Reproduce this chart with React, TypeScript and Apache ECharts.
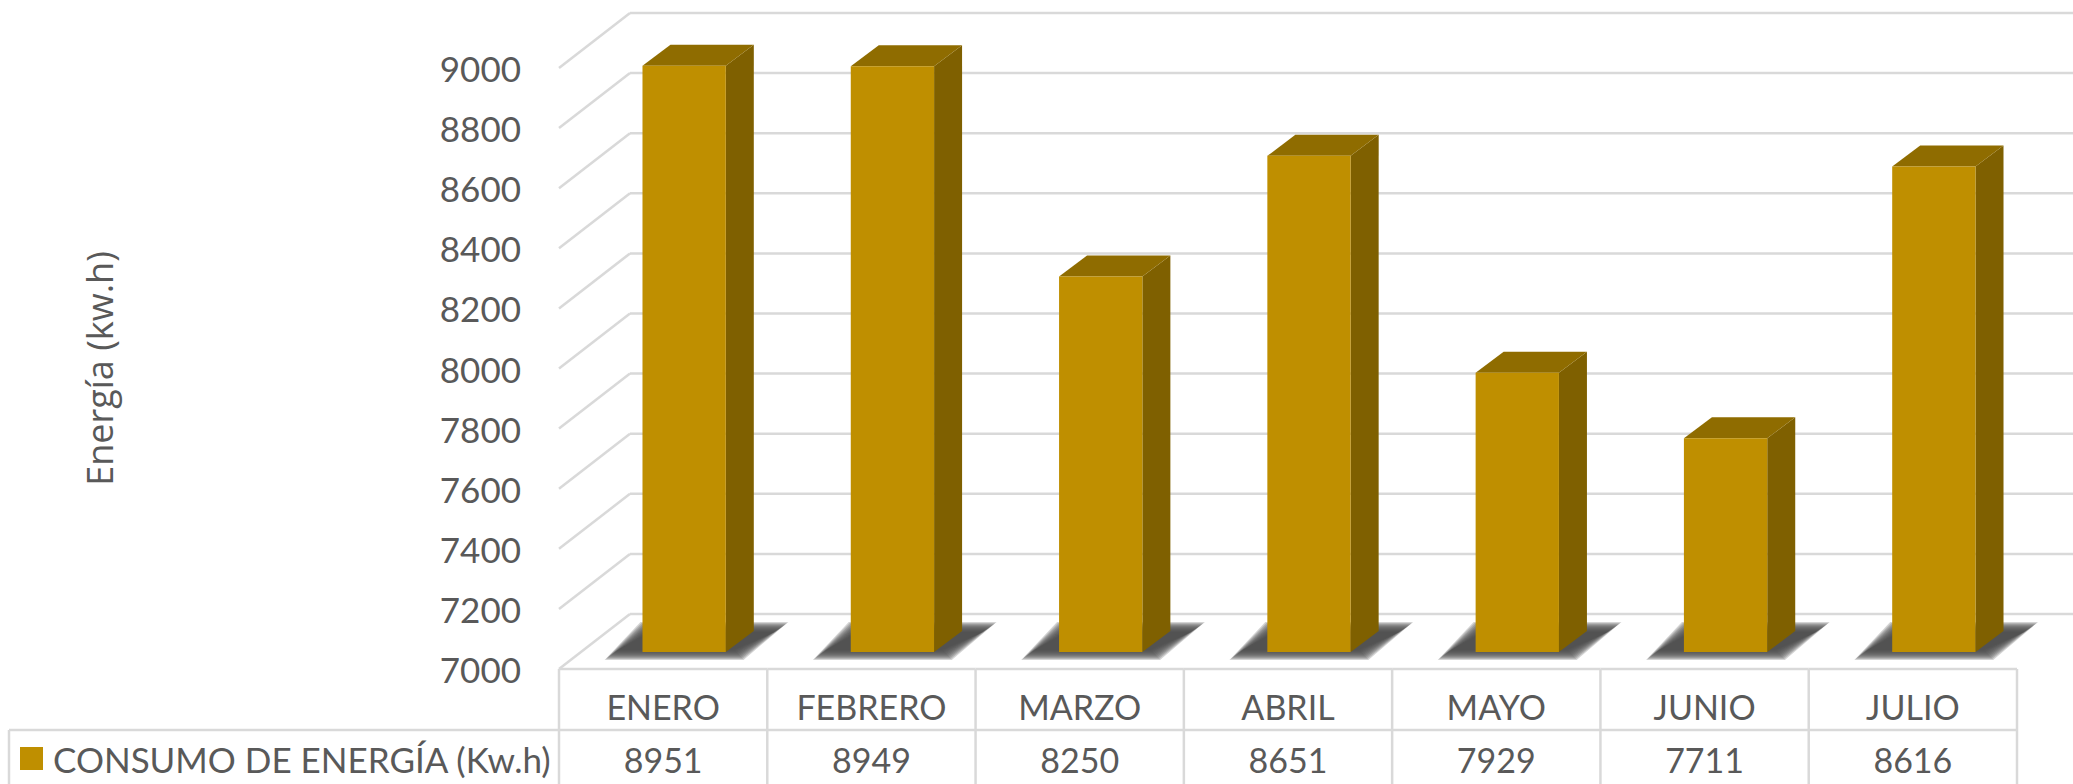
import React, { useEffect, useRef } from "react";
import * as echarts from "echarts";

const meses = ["ENERO", "FEBRERO", "MARZO", "ABRIL", "MAYO", "JUNIO", "JULIO"];
const consumo = [8951, 8949, 8250, 8651, 7929, 7711, 8616];
const marcasEje = [7000, 7200, 7400, 7600, 7800, 8000, 8200, 8400, 8600, 8800, 9000];
const nombreSerie = "CONSUMO DE ENERGÍA (Kw.h)";
const tituloEje = "Energía (kw.h)";

const GRID_COLOR = "#d9d9d9";
const TEXT_COLOR = "#595959";
const FONT = "Lato, 'Open Sans', sans-serif";
const WALL_DX = 71;
const WALL_DY = 55;
const BAR_SHIFT_X = 21;
const BAR_SHIFT_Y = 17;
const BAR_DX = 28;
const BAR_DY = 21;
const ROW_Y = 730;
const TABLE_LEFT = 9;
const W = 2073;
const H = 784;
const SHADOW_LAYERS = 10;

const line = (x1: number, y1: number, x2: number, y2: number) => ({
  type: "line",
  shape: { x1, y1, x2, y2 },
  style: { stroke: GRID_COLOR, lineWidth: 2.5, fill: "none" },
});

export default function App() {
  const ref = useRef<HTMLDivElement>(null);
  useEffect(() => {
    const chart = echarts.init(ref.current!, null, { renderer: "svg" });
    chart.setOption({
      animation: false,
      backgroundColor: "#ffffff",
      grid: { left: 559, right: W - 2017, top: 68, bottom: H - 669, containLabel: false },
      legend: {
        left: 20,
        top: 741,
        padding: 0,
        itemWidth: 23,
        itemHeight: 23,
        icon: "rect",
        data: [nombreSerie],
        selectedMode: false,
        textStyle: { color: TEXT_COLOR, fontFamily: FONT, fontSize: 35, padding: [0, 0, 0, 5] },
      },
      xAxis: {
        type: "category",
        data: meses,
        axisLine: { show: false },
        axisTick: { show: false },
        axisLabel: { color: TEXT_COLOR, fontFamily: FONT, fontSize: 34, margin: 37, verticalAlign: "middle", interval: 0 },
      },
      yAxis: {
        type: "value",
        min: 7000,
        max: 9000,
        interval: 200,
        name: tituloEje,
        nameLocation: "middle",
        nameRotate: 90,
        nameGap: 442,
        nameTextStyle: { color: TEXT_COLOR, fontFamily: "'Open Sans', sans-serif", fontSize: 36 },
        axisLine: { show: false },
        axisTick: { show: false },
        splitLine: { show: false },
        axisLabel: {
          color: TEXT_COLOR,
          fontFamily: FONT,
          fontSize: 35,
          margin: 38,
          formatter: (v: number) => String(v),
        },
      },
      series: [
        {
          type: "custom",
          name: "paredes",
          silent: true,
          z: 1,
          data: marcasEje.map((v) => [0, v]),
          renderItem: (params: any, api: any) => {
            const y = api.coord([0, api.value(1)])[1];
            const c = params.coordSys;
            return {
              type: "group",
              children: [
                line(c.x, y, c.x + WALL_DX, y - WALL_DY),
                line(c.x + WALL_DX, y - WALL_DY, W + 10, y - WALL_DY),
              ],
            };
          },
        },
        {
          type: "custom",
          name: "tabla",
          silent: true,
          z: 1,
          data: meses.map((_, i) => [i, consumo[i]]),
          renderItem: (params: any, api: any) => {
            const i = api.value(0);
            const c = params.coordSys;
            const w = c.width / meses.length;
            const y0 = c.y + c.height;
            const children: any[] = [
              line(c.x + i * w, y0, c.x + (i + 1) * w, y0),
              line(c.x + i * w, ROW_Y, c.x + (i + 1) * w, ROW_Y),
              line(c.x + (i + 1) * w, y0, c.x + (i + 1) * w, H),
              {
                type: "text",
                style: {
                  x: c.x + (i + 0.5) * w,
                  y: 759,
                  text: String(api.value(1)),
                  fill: TEXT_COLOR,
                  font: `34px ${FONT}`,
                  align: "center",
                  verticalAlign: "middle",
                },
              },
            ];
            if (i === 0) {
              children.push(line(c.x, y0, c.x, H));
              children.push(line(TABLE_LEFT, ROW_Y, c.x, ROW_Y));
              children.push(line(TABLE_LEFT, ROW_Y, TABLE_LEFT, H));
            }
            return { type: "group", children };
          },
        },
        {
          type: "custom",
          name: "sombras",
          silent: true,
          z: 2,
          data: meses.map((_, i) => [i, consumo[i]]),
          renderItem: (params: any, api: any) => {
            const i = api.value(0);
            const base = api.coord([i, 7000]);
            const bw = api.size([1, 0])[0] * 0.4;
            const L = base[0] + BAR_SHIFT_X - bw / 2;
            const yb = base[1] - BAR_SHIFT_Y;
            const children: any[] = [];
            for (let k = SHADOW_LAYERS; k >= 0; k--) {
              const g = k - 4;
              children.push({
                type: "polygon",
                shape: {
                  points: [
                    [L - 30 - g * 1.3, yb + 2 + g],
                    [L + 95 + g, yb + 2 + g],
                    [L + 138 + g * 1.3, yb - 24 - g],
                    [L + 4 - g, yb - 24 - g],
                  ],
                },
                style: { fill: "#4d4d4d", opacity: 0.24 },
              });
            }
            return { type: "group", children };
          },
        },
        {
          type: "custom",
          name: nombreSerie,
          silent: true,
          z: 3,
          itemStyle: { color: "#bf8f00" },
          data: meses.map((_, i) => [i, consumo[i]]),
          renderItem: (params: any, api: any) => {
            const i = api.value(0);
            const v = api.value(1);
            const top = api.coord([i, v]);
            const base = api.coord([i, 7000]);
            const bw = api.size([1, 0])[0] * 0.4;
            const l = top[0] + BAR_SHIFT_X - bw / 2;
            const r = l + bw;
            const t = top[1] - BAR_SHIFT_Y;
            const b = base[1] - BAR_SHIFT_Y;
            return {
              type: "group",
              children: [
                {
                  type: "polygon",
                  shape: { points: [[r, t], [r + BAR_DX, t - BAR_DY], [r + BAR_DX, b - BAR_DY], [r, b]] },
                  style: { fill: "#7f6000" },
                },
                {
                  type: "polygon",
                  shape: { points: [[l, t], [l + BAR_DX, t - BAR_DY], [r + BAR_DX, t - BAR_DY], [r, t]] },
                  style: { fill: "#8f6c00" },
                },
                {
                  type: "rect",
                  shape: { x: l, y: t, width: bw, height: b - t },
                  style: { fill: "#bf8f00" },
                },
              ],
            };
          },
        },
      ],
    });
    return () => chart.dispose();
  }, []);
  return <div ref={ref} style={{ position: "absolute", left: 0, top: 0, width: W, height: H }} />;
}
